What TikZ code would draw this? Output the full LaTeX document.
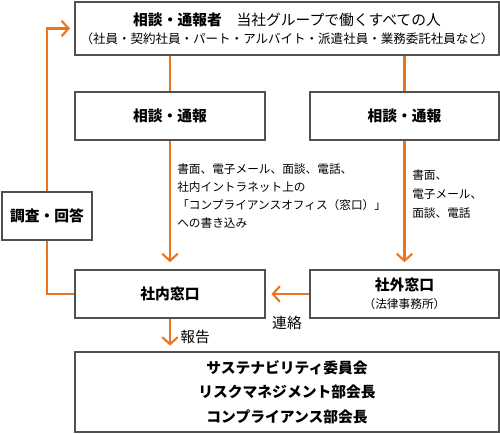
\documentclass[tikz,border=0pt]{standalone}
\usepackage{fontspec}
\setmainfont{Noto Sans CJK JP}
\usepackage{xcolor}
\usetikzlibrary{arrows.meta}

\definecolor{laranja}{RGB}{234,117,30}
\definecolor{borda}{RGB}{80,80,80}

\tikzset{
  caixa/.style={draw=borda, line width=1.1pt, fill=white, inner sep=0pt, align=center,
    font=\fontsize{10.5}{15}\selectfont\bfseries},
  seta/.style={draw=laranja, line width=1.5pt, -{Straight Barb[length=5pt,width=11pt,line width=1.5pt]}},
  linha/.style={draw=laranja, line width=1.5pt},
  rotulo/.style={font=\fontsize{8.3}{13}\selectfont, align=left, inner sep=0pt}
}

\begin{document}
\begin{tikzpicture}[x=0.025cm, y=-0.025cm]

\useasboundingbox (0,0) rectangle (500,434);

% Caixa superior
\node[caixa, minimum width=424*0.025cm, minimum height=53*0.025cm] (pessoa) at (287,28.5)
  {相談・通報者\quad{\mdseries 当社グループで働くすべての人}\\[-2pt]
   {\mdseries\fontsize{8.9}{10}\selectfont （社員・契約社員・パート・アルバイト・派遣社員・業務委託社員など）}};

% Caixas do meio
\node[caixa, minimum width=190*0.025cm, minimum height=48*0.025cm] (consultaA) at (170,116) {相談・通報};
\node[caixa, minimum width=189*0.025cm, minimum height=48*0.025cm] (consultaB) at (404.5,116) {相談・通報};

% Investigacao
\node[caixa, minimum width=90*0.025cm, minimum height=48*0.025cm] (investiga) at (47,216) {調査・回答};

% Janelas
\node[caixa, minimum width=190*0.025cm, minimum height=48*0.025cm] (interna) at (170,294) {社内窓口};
\node[caixa, minimum width=189*0.025cm, minimum height=48*0.025cm] (externa) at (404.5,294)
  {社外窓口\\[-2pt]{\mdseries\fontsize{8.3}{10}\selectfont （法律事務所）}};

% Comite
\node[caixa, minimum width=424*0.025cm, minimum height=80*0.025cm, font=\fontsize{10.5}{17.5}\selectfont\bfseries] (comite) at (287,392)
  {サステナビリティ委員会\\リスクマネジメント部会長\\コンプライアンス部会長};

% Ligacoes
\draw[linha] (pessoa.south -| consultaA.north) -- (consultaA.north);
\draw[linha] (pessoa.south -| consultaB.north) -- (consultaB.north);
\draw[seta, shorten >=5pt] (consultaA.south) -- (interna.north);
\draw[seta, shorten >=5pt] (consultaB.south) -- (externa.north);
\draw[seta, shorten >=4pt] (externa.west) -- (interna.east);
\draw[seta, shorten >=4pt] (interna.south) -- (interna.south |- comite.north);

% Retorno
\draw[linha] (interna.west) -| (investiga.south);
\draw[seta, shorten >=3pt] (investiga.north) |- (pessoa.west);

% Textos
\node[rotulo, anchor=north west] (meiosA) at (177,163)
  {書面、電子メール、面談、電話、\\社内イントラネット上の\\「コンプライアンスオフィス（窓口）」\\への書き込み};
\node[rotulo, anchor=north west, font=\fontsize{8.3}{13.5}\selectfont] (meiosB) at (412,169)
  {書面、\\電子メール、\\面談、電話};
\node[rotulo, anchor=west, font=\fontsize{10.5}{12}\selectfont] (relato) at (180,337) {報告};
\node[rotulo, font=\fontsize{10.5}{12}\selectfont] (contato) at (287,323) {連絡};

\end{tikzpicture}
\end{document}
